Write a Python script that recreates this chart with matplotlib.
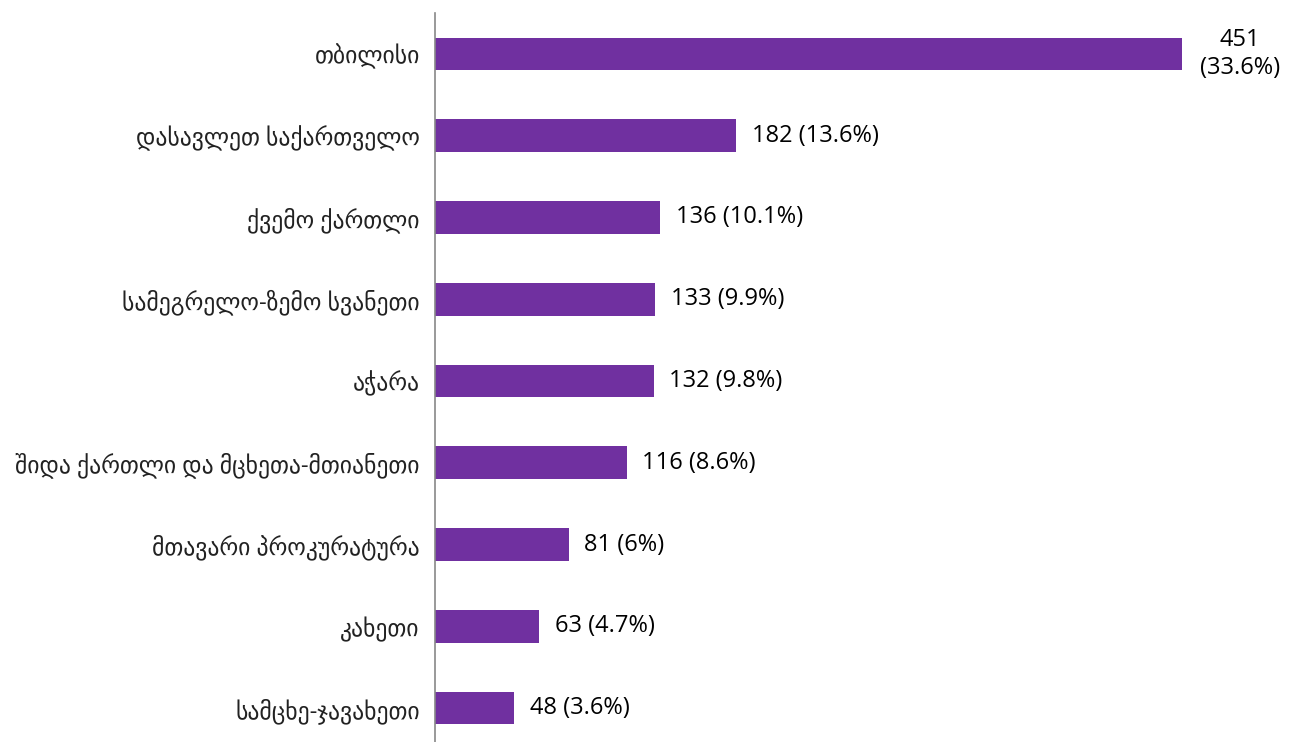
import matplotlib.pyplot as plt

regions = ["თბილისი", "დასავლეთ საქართველო", "ქვემო ქართლი",
           "სამეგრელო-ზემო სვანეთი", "აჭარა",
           "შიდა ქართლი და მცხეთა-მთიანეთი", "მთავარი პროკურატურა",
           "კახეთი", "სამცხე-ჯავახეთი"]
counts = [451, 182, 136, 133, 132, 116, 81, 63, 48]
shares = ["33.6%", "13.6%", "10.1%", "9.9%", "9.8%", "8.6%", "6%", "4.7%", "3.6%"]

plt.rcParams['font.family'] = ['Open Sans', 'DejaVu Sans']

fig = plt.figure(figsize=(12.94, 7.42), dpi=100)
ax = fig.add_axes([435 / 1294, -7 / 742, 859 / 1294, 736 / 742])

y = list(range(len(regions)))
ax.barh(y, counts, height=0.4, color="#7030A0")

ax.set_ylim(len(regions) - 0.5, -0.5)
ax.set_xlim(0, 518.7)
ax.set_yticks(y)
ax.set_yticklabels(regions, fontsize=17, color="#222222")
ax.tick_params(axis="y", length=0, pad=11)
ax.set_xticks([])

for s in ["top", "right", "bottom"]:
    ax.spines[s].set_visible(False)
ax.spines["left"].set_color("#888888")
ax.spines["left"].set_linewidth(1.2)

for i, (c, s) in enumerate(zip(counts, shares)):
    if i == 0:
        ax.annotate(f"{c}\n({s})", (c, i), xytext=(42, 0), textcoords="offset points",
                    ha="center", va="center", fontsize=17, linespacing=1.2)
    else:
        ax.annotate(f"{c} ({s})", (c, i), xytext=(11, 0), textcoords="offset points",
                    ha="left", va="center", fontsize=17)

fig.savefig("out.png", dpi=100)
